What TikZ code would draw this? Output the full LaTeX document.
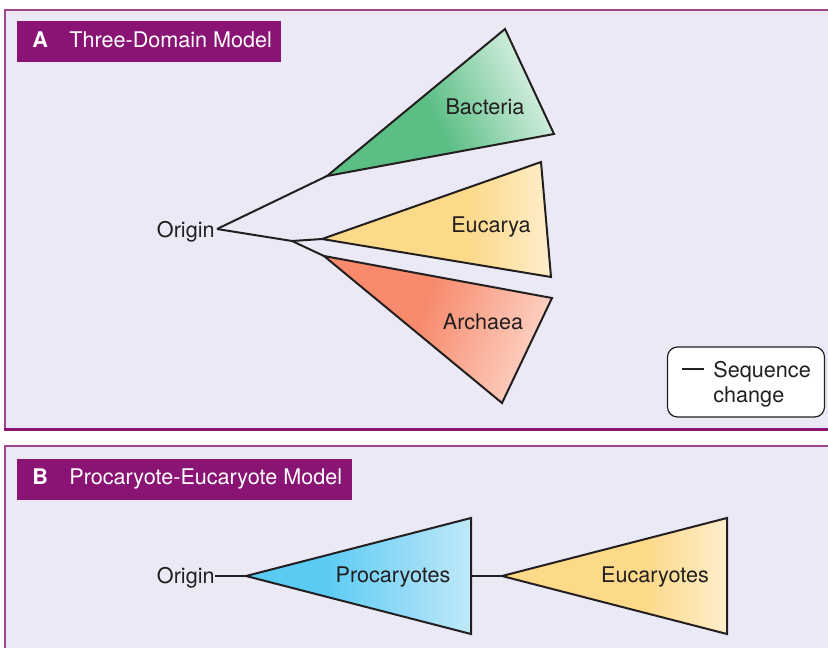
\documentclass[tikz,border=0pt]{standalone}
\usepackage{fontspec}
\setmainfont{TeX Gyre Heros}
\definecolor{panelbg}{HTML}{EBE9F5}
\definecolor{headpurple}{HTML}{8A1474}
\definecolor{inkgray}{HTML}{231F20}
\definecolor{bactdark}{HTML}{5BBE85}
\definecolor{bactlight}{HTML}{DAF1E4}
\definecolor{eucdark}{HTML}{FDD98A}
\definecolor{euclight}{HTML}{FEEECB}
\definecolor{archdark}{HTML}{F78A6D}
\definecolor{archlight}{HTML}{FDD3C4}
\definecolor{prodark}{HTML}{5BCBF4}
\definecolor{prolight}{HTML}{C0E8F9}
\pgfdeclarehorizontalshading{bactshade}{100bp}{color(0bp)=(bactdark); color(25bp)=(bactdark); color(47bp)=(bactdark); color(75bp)=(bactlight); color(100bp)=(bactlight)}
\pgfdeclarehorizontalshading{eucshade}{100bp}{color(0bp)=(eucdark); color(25bp)=(eucdark); color(57bp)=(eucdark); color(75bp)=(euclight); color(100bp)=(euclight)}
\pgfdeclarehorizontalshading{archshade}{100bp}{color(0bp)=(archdark); color(25bp)=(archdark); color(45bp)=(archdark); color(75bp)=(archlight); color(100bp)=(archlight)}
\pgfdeclarehorizontalshading{proshade}{100bp}{color(0bp)=(prodark); color(25bp)=(prodark); color(42bp)=(prodark); color(75bp)=(prolight); color(100bp)=(prolight)}
\tikzset{
  treeline/.style = {draw = inkgray, line width = 1pt},
  wedge/.style = {draw = inkgray, line width = 1pt, line join = miter},
  label/.style = {text = inkgray, inner sep = 0pt, font = \fontsize{10.8}{13}\selectfont},
  headtext/.style = {text = white, inner sep = 0pt, anchor = base west, font = \fontsize{10.8}{13}\selectfont},
  panelrule/.style = {draw = headpurple!80, line width = 0.6pt}
}
\begin{document}
\begin{tikzpicture}[x = 0.5pt, y = -0.5pt]
\useasboundingbox (0, 0) rectangle (828, 647);
\clip (0, 0) rectangle (828, 647);
\fill [white] (0, 0) rectangle (828, 647);
\fill [panelbg] (5, 10) rectangle (840, 429);
\draw [panelrule] (840, 10) -- (5, 10) -- (5, 429);
\draw [draw = headpurple, line width = 1.5pt] (4, 429) -- (840, 429);
\fill [panelbg] (5, 446) rectangle (840, 660);
\draw [panelrule] (840, 446) -- (5, 446) -- (5, 660);
\fill [headpurple] (17, 21) rectangle (281, 62);
\node [headtext] (headA) at (32, 48) {\textbf{A}};
\node [headtext] (titleA) at (69, 48) {Three-Domain Model};
\fill [headpurple] (17, 459) rectangle (352, 500);
\node [headtext] (headB) at (32, 484) {\textbf{B}};
\node [headtext] (titleB) at (69, 484) {Procaryote-Eucaryote Model};
\coordinate (root) at (217, 229);
\coordinate (fork) at (292, 241);
\coordinate (bactapex) at (327, 176);
\coordinate (eucapex) at (322, 239);
\coordinate (archapex) at (324, 256);
\shade [wedge, shading = bactshade, shading angle = 25] (bactapex) -- (505, 29) -- (554, 134) -- cycle;
\shade [wedge, shading = eucshade] (eucapex) -- (541, 162) -- (551, 277) -- cycle;
\shade [wedge, shading = archshade, shading angle = -20] (archapex) -- (552, 298) -- (502, 403) -- cycle;
\draw [treeline] (root) -- (bactapex);
\draw [treeline] (root) -- (fork);
\draw [treeline] (fork) -- (eucapex);
\draw [treeline] (fork) -- (archapex);
\node [label, anchor = base east] (originA) at (215, 237) {Origin};
\node [label, anchor = base] (bacteria) at (485, 114) {Bacteria};
\node [label, anchor = base] (eucarya) at (491, 232) {Eucarya};
\node [label, anchor = base] (archaea) at (483, 329) {Archaea};
\node [draw = inkgray, line width = 0.6pt, fill = white, rounded corners = 5pt, minimum width = 78.5pt, minimum height = 35pt] (legend) at (746, 382) {};
\coordinate (legstart) at (682, 369);
\coordinate (legstop) at (704, 369);
\draw [treeline] (legstart) -- (legstop);
\node [label, anchor = base west] (seq) at (713, 377) {Sequence};
\node [label, anchor = base west] (chg) at (713, 402) {change};
\coordinate (proapex) at (246, 576);
\coordinate (proback) at (471, 576);
\coordinate (eucbapex) at (502, 576);
\shade [wedge, shading = proshade] (proapex) -- (471, 518) -- (471, 634) -- cycle;
\shade [wedge, shading = eucshade] (eucbapex) -- (727, 518) -- (727, 634) -- cycle;
\node [label, anchor = base east] (originB) at (215, 583) {Origin};
\draw [treeline] (originB.east |- proapex) -- (proapex);
\draw [treeline] (proback) -- (eucbapex);
\node [label, anchor = base] (procaryotes) at (393, 582) {Procaryotes};
\node [label, anchor = base] (eucaryotes) at (655, 582) {Eucaryotes};
\end{tikzpicture}
\end{document}
